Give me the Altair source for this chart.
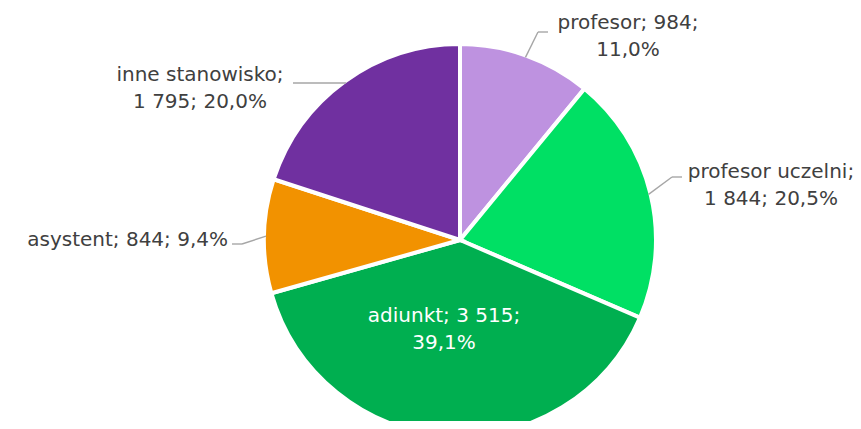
import altair as alt
import pandas as pd

# ---- data ----
categories = ["profesor", "profesor uczelni", "adiunkt", "asystent", "inne stanowisko"]
values = [984, 1844, 3515, 844, 1795]
value_text = ["984", "1 844", "3 515", "844", "1 795"]
percent_text = ["11,0%", "20,5%", "39,1%", "9,4%", "20,0%"]
label_lines = [
    "profesor; 984;\n11,0%",
    "profesor uczelni;\n1 844; 20,5%",
    "adiunkt; 3 515;\n39,1%",
    "asystent; 844; 9,4%",
    "inne stanowisko;\n1 795; 20,0%",
]

# ---- style / layout ----
colors = ["#BE92E0", "#00E064", "#00AF50", "#F29200", "#7030A0"]
CX, CY, R = 452, 232, 194
label_color = ["#404040", "#404040", "#FFFFFF", "#404040", "#404040"]
label_align = ["center", "center", "center", "right", "center"]
label_x = [620, 763, 436, 220, 192]
label_y = [15, 164, 308, 232, 67]
has_leader = [True, True, False, True, True]
elbow_x = [530, 664, 0, 234, None]
elbow_y = [24, 169, 0, 236, None]
end_x = [540, 674, 0, 224, 285]
end_y = [24, 169, 0, 236, None]

df = pd.DataFrame({
    "category": categories,
    "value": values,
    "order": list(range(len(categories))),
    "label": label_lines,
    "tcolor": label_color,
    "align": label_align,
    "lx": label_x,
    "ly": label_y,
    "leader": has_leader,
    "ex": elbow_x,
    "ey": elbow_y,
    "fx": end_x,
    "fy": end_y,
})

base = alt.Chart(df)

pie = base.mark_arc(outerRadius=R + 2, stroke="white", strokeWidth=4).encode(
    theta=alt.Theta("value:Q", stack=True),
    color=alt.Color("category:N", scale=alt.Scale(domain=categories, range=colors), legend=None),
    order=alt.Order("order:Q"),
    x=alt.value(CX),
    y=alt.value(CY),
)

geo = base.transform_joinaggregate(
    total="sum(value)"
).transform_window(
    cum="sum(value)", sort=[alt.SortField("order")]
).transform_calculate(
    mid="2*PI*(datum.cum - datum.value/2)/datum.total",
).transform_calculate(
    sx=f"{CX} + {R}*sin(datum.mid)",
    sy=f"{CY} - {R}*cos(datum.mid)",
).transform_filter(
    "datum.leader"
).transform_calculate(
    kx="datum.ex == null ? datum.sx : datum.ex",
    ky="datum.ey == null ? datum.sy : datum.ey",
).transform_calculate(
    gy="datum.fy == null ? datum.ky : datum.fy",
)

leader1 = geo.mark_rule(color="#A6A6A6", strokeWidth=1.4).encode(
    x=alt.X("sx:Q", scale=None),
    y=alt.Y("sy:Q", scale=None),
    x2="kx:Q",
    y2="ky:Q",
)
leader2 = geo.mark_rule(color="#A6A6A6", strokeWidth=1.4).encode(
    x=alt.X("kx:Q", scale=None),
    y=alt.Y("ky:Q", scale=None),
    x2="fx:Q",
    y2="gy:Q",
)

text_common = dict(font="DejaVu Sans", fontSize=20, lineBreak="\n", lineHeight=27, baseline="middle")

text_center = base.transform_filter("datum.align == 'center'").mark_text(align="center", **text_common).encode(
    x=alt.X("lx:Q", scale=None),
    y=alt.Y("ly:Q", scale=None),
    text="label:N",
    color=alt.Color("tcolor:N", scale=None),
)
text_right = base.transform_filter("datum.align == 'right'").mark_text(align="right", **text_common).encode(
    x=alt.X("lx:Q", scale=None),
    y=alt.Y("ly:Q", scale=None),
    text="label:N",
    color=alt.Color("tcolor:N", scale=None),
)

chart = alt.layer(pie, leader1, leader2, text_center, text_right).properties(
    width=845, height=413, padding=0, autosize=alt.AutoSizeParams(type="none")
).configure_view(stroke=None)

chart.save("out.html", embed_options={"renderer": "svg", "actions": False})
